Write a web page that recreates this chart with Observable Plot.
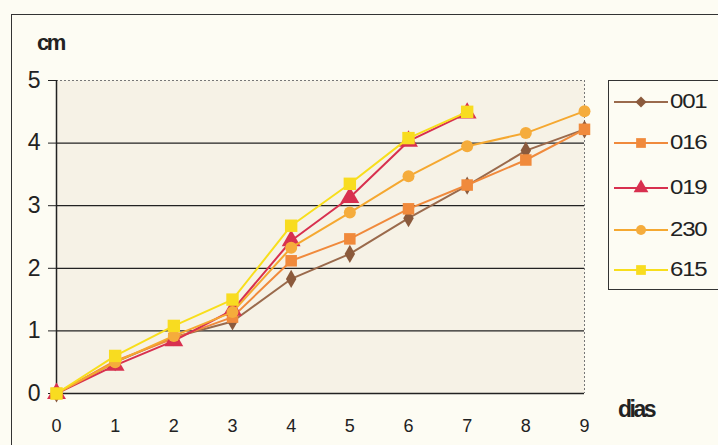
<!DOCTYPE html>
<html><head><meta charset="utf-8">
<script src="https://cdn.jsdelivr.net/npm/d3@7"></script>
<script src="https://cdn.jsdelivr.net/npm/@observablehq/plot@0.6"></script>
<style>
body{margin:0;background:#fdfcf3;font-family:"Liberation Sans",Arial,sans-serif;}
#wrap{position:relative;width:718px;height:445px;overflow:hidden;background:#fdfcf3;}
#frame{position:absolute;left:11px;top:14px;width:740px;height:460px;border:1.5px solid #333;box-sizing:border-box;}
#chart{position:absolute;left:0;top:0;}
.lbl{position:absolute;font-weight:bold;color:#222;letter-spacing:-2.5px;line-height:1;}
#legend{position:absolute;left:608px;top:80px;width:140px;height:210px;border:1.5px solid #333;box-sizing:border-box;background:#fdfcf3;}
.row{position:absolute;left:5px;height:30px;display:flex;align-items:center;}
.row span{font-size:20px;letter-spacing:-1px;color:#222;margin-left:2px;display:inline-block;transform:scaleX(1.2);transform-origin:left center;}
</style></head>
<body>
<div id="wrap">
  <div id="frame"></div>
  <div id="chart"></div>
  <div class="lbl" style="left:37px;top:32px;font-size:22px;">cm</div>
  <div class="lbl" style="left:618px;top:398px;font-size:23px;">dias</div>
  <div id="legend"></div>
</div>
<script>
const days = [0,1,2,3,4,5,6,7,8,9];
const seriesNames = ["001","016","019","230","615"];
const v001 = [0,0.50,0.90,1.15,1.83,2.23,2.80,3.32,3.88,4.22];
const v016 = [0,0.52,0.88,1.22,2.12,2.47,2.95,3.33,3.73,4.22];
const v019 = [0,0.45,0.84,1.33,2.44,3.13,4.03,4.48];
const v230 = [0,0.50,0.92,1.30,2.33,2.89,3.47,3.95,4.16,4.51];
const v615 = [0,0.60,1.08,1.50,2.68,3.35,4.08,4.50];
const yTicks = [0,1,2,3,4,5];
const xTicks = [0,1,2,3,4,5,6,7,8,9];

const styles = {
  "001": {stroke:"#9a6a4c", fill:"#8b5a3c", symbol:"diamond", r:5.5},
  "016": {stroke:"#f08a3c", fill:"#f08a3c", symbol:"square", r:6.5},
  "019": {stroke:"#d8304f", fill:"#d8304f", symbol:"triangle", r:7},
  "230": {stroke:"#f5a830", fill:"#f5ac3c", symbol:"circle", r:6},
  "615": {stroke:"#f8de1c", fill:"#f8dc20", symbol:"square", r:7}
};
const values = {"001":v001,"016":v016,"019":v019,"230":v230,"615":v615};
const data = [];
for (const s of seriesNames) values[s].forEach((v,i)=>data.push({series:s, day:days[i], cm:v}));

const marks = [
  Plot.frame({fill:"#f6f2e6", stroke:null}),
  Plot.ruleY([1,2,3,4], {stroke:"#222", strokeWidth:1.3}),
  Plot.ruleY([5], {stroke:"#777", strokeDasharray:"2,2", strokeWidth:1}),
  Plot.ruleX([9], {stroke:"#777", strokeDasharray:"2,2", strokeWidth:1}),
  Plot.ruleY([0], {stroke:"#222", strokeWidth:1.5}),
  Plot.ruleX([0], {stroke:"#222", strokeWidth:1.5}),
  Plot.axisY({ticks:yTicks, tickSize:8, tickPadding:8, fontSize:23, label:null, color:"#222", tickFormat:d=>d}),
  Plot.axisX({ticks:xTicks, tickSize:0, tickPadding:26, fontSize:18, label:null, color:"#222", tickFormat:d=>d})
];
for (const s of seriesNames) {
  const st = styles[s];
  const d = data.filter(e=>e.series===s);
  marks.push(Plot.line(d, {x:"day", y:"cm", stroke:st.stroke, strokeWidth:2}));
  marks.push(Plot.dot(d, {x:"day", y:"cm", symbol:()=>st.symbol, fill:st.fill, stroke:"none", r:st.r}));
}

const chart = Plot.plot({
  width:718, height:445,
  marginLeft:56, marginRight:134, marginTop:80, marginBottom:52,
  x:{domain:[0,9]},
  y:{domain:[0,5]},
  symbol:{type:"identity"},
  style:{background:"transparent", fontFamily:"Liberation Sans, Arial, sans-serif", overflow:"visible"},
  marks
});
document.getElementById("chart").appendChild(chart);

// legend
const leg = document.getElementById("legend");
const rowY = [22,63,108,150,190];
const legR = {"001":5,"016":5.5,"019":5.5,"230":5,"615":5.5};
seriesNames.forEach((s,i)=>{
  const st = styles[s];
  const row = document.createElement("div");
  row.className = "row";
  row.style.top = (rowY[i]-15-1.5) + "px";
  const svg = d3.create("svg").attr("width",54).attr("height",30);
  svg.append("line").attr("x1",0).attr("x2",54).attr("y1",15).attr("y2",15).attr("stroke",st.stroke).attr("stroke-width",2);
  const sym = {diamond:d3.symbolDiamond2, square:d3.symbolSquare, triangle:d3.symbolTriangle, circle:d3.symbolCircle}[st.symbol];
  svg.append("path").attr("d", d3.symbol(sym, Math.PI*legR[s]*legR[s])()).attr("transform","translate(27,15)").attr("fill",st.fill);
  row.appendChild(svg.node());
  const t = document.createElement("span");
  t.textContent = s;
  row.appendChild(t);
  leg.appendChild(row);
});
</script>
</body></html>
